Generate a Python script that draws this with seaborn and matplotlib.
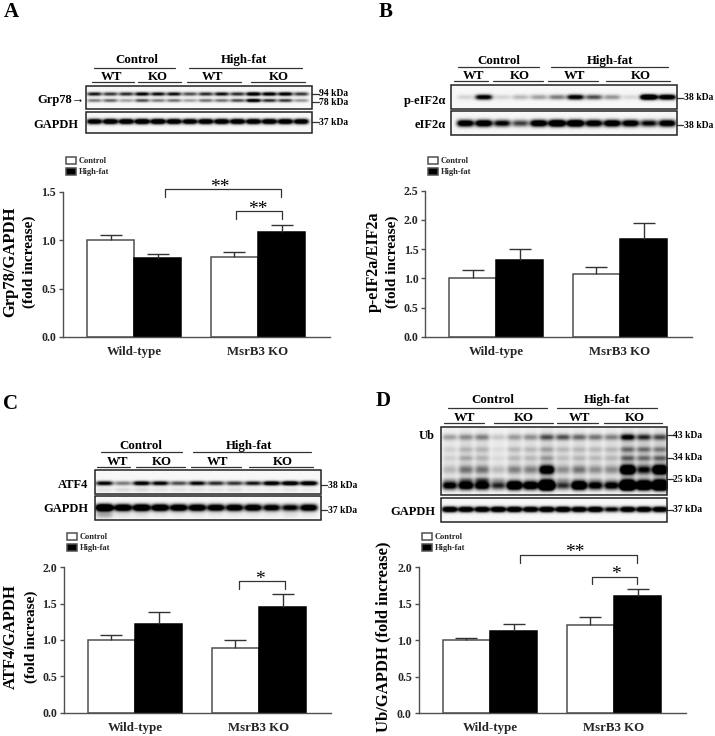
import numpy as np
import pandas as pd
import seaborn as sns
import matplotlib.pyplot as plt
from matplotlib.patches import Rectangle

W, H = 715, 736
SERIF = 'Liberation Serif'
EDGE = '#505050'

groups = ['Wild-type', 'MsrB3 KO']
diets = ['Control', 'High-fat']

# bar heights and upper error (order: WT ctrl, WT hf, KO ctrl, KO hf)
grp78_vals = [1.00, 0.82, 0.83, 1.09]
grp78_err = [0.055, 0.035, 0.045, 0.07]
eif2_vals = [1.00, 1.32, 1.07, 1.68]
eif2_err = [0.14, 0.19, 0.13, 0.26]
atf4_vals = [1.00, 1.215, 0.895, 1.455]
atf4_err = [0.065, 0.17, 0.10, 0.18]
ub_vals = [1.00, 1.12, 1.205, 1.60]
ub_err = [0.03, 0.105, 0.115, 0.10]

yticks_a = [0.0, 0.5, 1.0, 1.5]
yticks_b = [0.0, 0.5, 1.0, 1.5, 2.0, 2.5]
yticks_cd = [0.0, 0.5, 1.0, 1.5, 2.0]

# band darkness per lane, read by eye off the blots
grp78_upper = [0.95, 0.8, 0.85, 1.1, 1.0, 1.0, 0.7, 0.85, 1.0, 0.85, 1.3, 1.2, 1.2, 0.8]
grp78_lower = [0.5, 0.6, 0.35, 0.7, 0.5, 0.55, 0.35, 0.55, 0.55, 0.7, 1.3, 0.85, 0.8, 0.4]
gapdh_a = [1.5, 1.6, 1.6, 1.7, 1.7, 1.6, 1.5, 1.6, 1.6, 1.6, 1.6, 1.6, 1.6, 1.5]
peif2 = [0.14, 1.2, 0.14, 0.25, 0.35, 0.5, 1.2, 0.7, 0.4, 0.12, 1.9, 1.5]
eif2 = [1.4, 1.5, 1.1, 0.75, 1.5, 1.8, 1.8, 1.4, 1.5, 1.4, 1.05, 1.4]
atf4 = [1.1, 0.5, 1.2, 1.1, 0.7, 1.05, 0.85, 0.8, 0.95, 1.3, 1.4, 1.4]
atf4_faint = [0.08, 0.12, 0.12, 0.08, 0.08, 0.08, 0.08, 0.1, 0.05, 0.05, 0.08, 0.05]
gapdh_c = [2.2, 1.7, 1.8, 1.7, 1.6, 1.6, 1.5, 1.5, 1.5, 1.3, 1.15, 1.5]
gapdh_c_faint = [0.3, 0.08, 0.08, 0.05, 0.05, 0.05, 0.05, 0.05, 0.05, 0.05, 0.08, 0.05]
ub_smear = [0.08, 0.13, 0.13, 0.06, 0.11, 0.11, 0.15, 0.11, 0.12, 0.11, 0.12, 0.2, 0.18, 0.18]
ub_top = [0.3, 0.35, 0.4, 0.15, 0.3, 0.35, 0.6, 0.6, 0.5, 0.45, 0.4, 1.0, 0.75, 0.6]
ub_mid1 = [0.08, 0.15, 0.15, 0.05, 0.15, 0.15, 0.22, 0.15, 0.15, 0.15, 0.15, 0.4, 0.4, 0.35]
ub_mid2 = [0.08, 0.2, 0.15, 0.06, 0.15, 0.15, 0.25, 0.12, 0.15, 0.15, 0.15, 0.45, 0.4, 0.45]
ub_low = [0.2, 0.45, 0.45, 0.2, 0.4, 0.4, 1.5, 0.35, 0.45, 0.35, 0.35, 2.0, 0.9, 2.0]
ub_main = [1.2, 1.5, 1.4, 0.85, 2.0, 1.6, 3.5, 0.8, 2.0, 1.2, 1.2, 3.5, 2.6, 3.5]
ub_main_up = [0.15, 0.35, 0.5, 0.2, 0.1, 0.1, 0.3, 0.2, 0.15, 0.15, 0.1, 0.3, 0.2, 0.3]
gapdh_d = [1.7, 1.6, 1.6, 1.7, 1.7, 1.6, 1.7, 1.7, 1.6, 1.7, 1.1, 1.6, 1.6, 1.6]

panels = [
    dict(letter='A', letter_xy=(11.5, 16.7), vals=grp78_vals, err=grp78_err, yticks=yticks_a,
         axis=(63, 330, 192, 337), cats=(134.3, 258), legend=(66.3, 156.7),
         ylabels=[('Grp78/GAPDH', 10, 262, 12), ('(fold increase)', 29, 262, 11)],
         box=[(86, 312.3, 85.7, 109.3), (86, 312.3, 111.7, 133.3)],
         lanes=(94.3, 300.7),
         bands=[[(94.5, grp78_upper, 1.1), (101, grp78_lower, 1.0)], [(122, gapdh_a, 1.5)]],
         heads=[('Control', 136.7, 59.7, 94, 175, 67.7), ('High-fat', 244, 59.7, 189, 302, 67.7),
                ('WT', 112, 77, 91.7, 134, 82), ('KO', 158, 77, 138, 180.7, 82),
                ('WT', 213, 77, 187, 240.7, 82), ('KO', 278.7, 77, 250.7, 305, 82)],
         names=[('Grp78\u2192', 85, 100), ('GAPDH', 78, 125)],
         kda=[('94 kDa', 94), ('78 kDa', 102.3), ('37 kDa', 122.3)], kda_x=(312.3, 318.5),
         brackets=[(164.7, 281, 189.3, 196.7, '**', 220, 182.7), (236.3, 281.7, 211.3, 219.3, '**', 258, 205)]),
    dict(letter='B', letter_xy=(386, 17), vals=eif2_vals, err=eif2_err, yticks=yticks_b,
         axis=(425.3, 692, 190.7, 336.7), cats=(496.2, 620), legend=(428, 156.7),
         ylabels=[('p-eIF2a/EIF2a', 374, 262, 11.5), ('(fold increase)', 392, 262, 11)],
         box=[(450.7, 677.3, 85.3, 109), (450.7, 677.3, 111, 135)],
         lanes=(465, 666.7),
         bands=[[(97.3, peif2, 1.5)], [(123.3, eif2, 2.0)]],
         heads=[('Control', 498.7, 61.3, 458.3, 539, 66.7), ('High-fat', 610, 61.3, 551, 667.7, 66.7),
                ('WT', 474, 76, 454.3, 488.3, 81), ('KO', 520, 76, 492.7, 542.7, 81),
                ('WT', 575, 76, 548.3, 598, 81), ('KO', 641, 76, 606, 670, 81)],
         names=[('p-eIF2\u03b1', 446, 101.3), ('eIF2\u03b1', 446, 125.3)],
         kda=[('38 kDa', 98), ('38 kDa', 125.3)], kda_x=(677.3, 683),
         brackets=[]),
    dict(letter='C', letter_xy=(11, 409), vals=atf4_vals, err=atf4_err, yticks=yticks_cd,
         axis=(64, 331, 567.3, 712.7), cats=(135, 259), legend=(67.3, 532.7),
         ylabels=[('ATF4/GAPDH', 11, 637, 12), ('(fold increase)', 31, 637, 11)],
         box=[(94.7, 321, 470, 494), (94.7, 321, 496, 520)],
         lanes=(104, 308),
         bands=[[(483.3, atf4, 1.3), (490, atf4_faint, 1.4)], [(507.7, gapdh_c, 2.0), (515, gapdh_c_faint, 2.0)]],
         heads=[('Control', 141, 445.7, 100.7, 181.7, 451.7), ('High-fat', 248.7, 445.7, 193.3, 310.7, 451.7),
                ('WT', 117.3, 461.7, 96.7, 130, 467.3), ('KO', 162, 461.7, 135.7, 184.7, 467.3),
                ('WT', 217.3, 461.7, 190.7, 240.7, 467.3), ('KO', 282.7, 461.7, 249.3, 312.7, 467.3)],
         names=[('ATF4', 88, 485.3), ('GAPDH', 88, 509)],
         kda=[('38 kDa', 485.3), ('37 kDa', 510.3)], kda_x=(321, 327),
         brackets=[(239.3, 284.7, 581.3, 589.3, '*', 260, 575)]),
    dict(letter='D', letter_xy=(383, 406), vals=ub_vals, err=ub_err, yticks=yticks_cd,
         axis=(418.7, 686, 567.3, 713), cats=(490, 614), legend=(422.3, 532.7),
         ylabels=[('Ub/GAPDH (fold increase)', 383, 637, 12)],
         box=[(440.7, 666.7, 426.7, 495.3), (440.7, 666.7, 498.3, 522.3)],
         lanes=(449.3, 659),
         bands=[[(455, ub_smear, 16), (437.7, ub_top, 1.8), (450, ub_mid1, 1.6), (458.7, ub_mid2, 1.6),
                 (470.3, ub_low, 2.6), (480.3, ub_main_up, 1.6), (486, ub_main, 2.4)], [(509.7, gapdh_d, 1.6)]],
         heads=[('Control', 492.7, 400, 447.7, 547, 407.7), ('High-fat', 606.7, 400, 557.3, 656.7, 407.7),
                ('WT', 465, 417.7, 444, 484.3, 423.3), ('KO', 524, 417.7, 493.7, 552.7, 423.3),
                ('WT', 579.3, 417.7, 557.3, 597.7, 423.3), ('KO', 635.3, 417.7, 604, 662.3, 423.3)],
         names=[('Ub', 435, 435.7), ('GAPDH', 435.3, 512.3)],
         kda=[('43 kDa', 435), ('34 kDa', 457.7), ('25 kDa', 479.3), ('37 kDa', 509.7)], kda_x=(666.7, 672.5),
         brackets=[(520, 636.7, 555, 562.7, '**', 575, 547.7), (591.7, 637.3, 576.7, 584.3, '*', 615.7, 570)]),
]


def draw_blot(px, box, lanes, rows):
    # paints gaussian bands on a light background, in figure pixel units
    x0, x1, y0, y1 = box
    xs = np.linspace(x0, x1, int((x1 - x0) * 3))
    ys = np.linspace(y0, y1, int((y1 - y0) * 3))
    gx, gy = np.meshgrid(xs, ys)
    dark = np.full(gx.shape, 0.03)
    for y, levels, sigma in rows:
        centers = np.linspace(lanes[0], lanes[1], len(levels))
        half = (centers[1] - centers[0]) * 0.46
        for cx, level in zip(centers, levels):
            dark += level * np.exp(-((gx - cx) / half) ** 4) * np.exp(-((gy - y) / (sigma * 1.7)) ** 2)
    px.imshow(1 - np.clip(dark, 0, 1), extent=(x0, x1, y1, y0), cmap='gray', vmin=0, vmax=1,
              aspect='auto', interpolation='bilinear', zorder=2)
    px.add_patch(Rectangle((x0, y0), x1 - x0, y1 - y0, fill=False, edgecolor='#222222', lw=1.1, zorder=3))


sns.set_style('ticks')
plt.rcParams['font.family'] = [SERIF, 'DejaVu Serif']
plt.rcParams['font.weight'] = 'bold'

fig = plt.figure(figsize=(W / 100, H / 100), dpi=100)
px = fig.add_axes([0, 0, 1, 1], zorder=5)
px.set_xlim(0, W)
px.set_ylim(H, 0)
px.autoscale(False)
px.axis('off')
px.patch.set_alpha(0)

for p in panels:
    left, right, top, zero = p['axis']
    ax = fig.add_axes([left / W, 1 - zero / H, (right - left) / W, (zero - top) / H])
    df = pd.DataFrame({
        'group': [g for g in groups for _ in diets],
        'diet': diets * len(groups),
        'value': p['vals'],
    })
    sns.barplot(data=df, x='group', y='value', hue='diet', palette=['white', 'black'], width=0.76,
                edgecolor=EDGE, linewidth=1.1, errorbar=None, saturation=1, ax=ax)

    # upper error bars at the bar centres, lower cap hidden
    bars = [b for c in ax.containers for b in c]
    bars = sorted(bars, key=lambda b: b.get_x())
    centers = [b.get_x() + b.get_width() / 2 for b in bars]
    for cx, v, e in zip(centers, p['vals'], p['err']):
        _, caps, _ = ax.errorbar(cx, v, yerr=[[0], [e]], color='#333333', lw=1, capsize=8, capthick=1, zorder=1)
        caps[0].set_visible(False)
    for b in ax.containers[1]:
        b.set_edgecolor('black')

    pitch = p['cats'][1] - p['cats'][0]
    ax.set_xlim((left - p['cats'][0]) / pitch, (right - p['cats'][0]) / pitch)
    ax.set_ylim(p['yticks'][0], p['yticks'][-1])
    ax.set_yticks(p['yticks'])
    ax.set_yticklabels(['{:.1f}'.format(t) for t in p['yticks']], fontsize=8.6, fontweight='bold')
    ax.set_xticks(range(len(groups)))
    ax.set_xticklabels(groups, fontsize=9.3, fontweight='bold')
    ax.tick_params(axis='x', length=0, pad=6.5)
    ax.tick_params(axis='y', length=3, width=1, pad=2, color=EDGE)
    ax.set_xlabel('')
    ax.set_ylabel('')
    sns.despine(ax=ax)
    for s in ['left', 'bottom']:
        ax.spines[s].set_color(EDGE)
        ax.spines[s].set_linewidth(1)

    handles, labels = ax.get_legend_handles_labels()
    ax.legend(handles, labels, loc='upper left', bbox_to_anchor=p['legend'], bbox_transform=px.transData,
              frameon=False, borderpad=0, borderaxespad=0, handlelength=1.2, handleheight=0.95,
              handletextpad=0.3, labelspacing=0.3, prop={'family': SERIF, 'weight': 'bold', 'size': 6})

    px.text(p['letter_xy'][0], p['letter_xy'][1], p['letter'], fontsize=15, ha='center', va='baseline', color='black')
    for label, x, y, size in p['ylabels']:
        px.text(x, y, label, fontsize=size, rotation=90, ha='center', va='center', color='black')

    for box, rows in zip(p['box'], p['bands']):
        draw_blot(px, box, p['lanes'], rows)
    for label, tx, ty, x0, x1, ly in p['heads']:
        px.text(tx, ty, label, fontsize=9.3, ha='center', va='center', color='black')
        px.plot([x0, x1], [ly, ly], color='#333333', lw=0.9)
    for label, x, y in p['names']:
        px.text(x, y, label, fontsize=9, ha='right', va='center', color='black')
    for label, y in p['kda']:
        px.plot(list(p['kda_x']), [y, y], color='#333333', lw=0.9)
        px.text(p['kda_x'][1] + 0.8, y, label, fontsize=6.9, ha='left', va='center', color='black')
    for x0, x1, ly, drop, stars, sx, sy in p['brackets']:
        px.plot([x0, x0, x1, x1], [drop, ly, ly, drop], color='#333333', lw=0.9)
        px.text(sx, sy + 9, stars, fontsize=14, fontweight='normal', ha='center', va='baseline', color='black')

fig.savefig('out.png', dpi=100)
